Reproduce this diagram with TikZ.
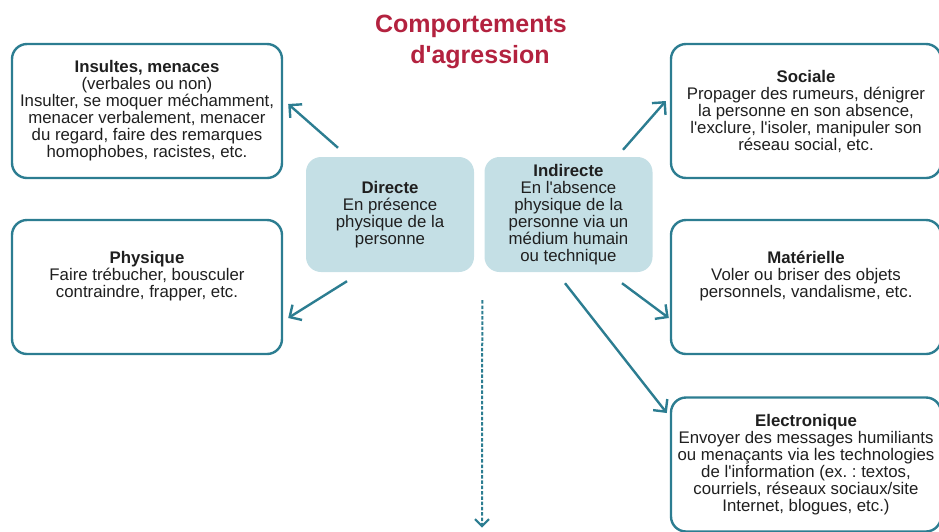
\documentclass[tikz,border=0pt]{standalone}
\usepackage{fontspec}
\setmainfont{Liberation Sans}
\usetikzlibrary{arrows.meta,calc}
\definecolor{teal1}{HTML}{2C7D91}
\definecolor{paleblue}{HTML}{C4DFE5}
\definecolor{crimson}{HTML}{B3223F}
\newcommand\ap{\textquotesingle}
\frenchspacing
\begin{document}
\begin{tikzpicture}[x=1pt,y=-1pt,
  body/.style={font=\fontsize{16.8}{17}\selectfont, align=center, text=black!88},
  outline/.style={body, draw=teal1, line width=2.4pt, rounded corners=15pt,
    fill=white, minimum width=270pt, minimum height=134pt, inner sep=0pt},
  kind/.style={body, fill=paleblue, rounded corners=15pt,
    minimum width=168pt, minimum height=115pt, inner sep=0pt},
  link/.style={draw=teal1, line width=2.4pt,
    -{Straight Barb[length=9pt,width=18pt,line width=2.4pt]}},
  hint/.style={draw=teal1, line width=2pt, dash pattern=on 3.5pt off 1.8pt,
    -{Straight Barb[length=7pt,width=14pt,line width=2pt,sep]}}]
\useasboundingbox (0,0) rectangle (939,531);

% title
\node[font=\bfseries\fontsize{25}{31}\selectfont, text=crimson, align=center]
  (title) at (471,42) {Comportements\\\hspace{18pt}d\ap agression};

% the two modes of aggression
\node[kind] (dir) at (390,214.5)
  {\textbf{Directe}\\En présence\\physique de la\\personne};
\node[kind] (ind) at (568.5,214.5)
  {\textbf{Indirecte}\\En l\ap absence\\physique de la\\personne via un\\médium humain\\ou technique};

% direct forms
\node[outline] (ins) at (147,111)
  {\textbf{Insultes, menaces}\\(verbales ou non)\\Insulter, se moquer méchamment,\\menacer verbalement, menacer\\du regard, faire des remarques\\homophobes, racistes, etc.};
\node[outline] (phy) at (147,287)
  {\textbf{Physique}\\Faire trébucher, bousculer\\contraindre, frapper, etc.\\[8pt]};

% indirect forms
\node[outline] (soc) at (806,111)
  {\textbf{Sociale}\\Propager des rumeurs, dénigrer\\la personne en son absence,\\l\ap exclure, l\ap isoler, manipuler son\\réseau social, etc.};
\node[outline] (mat) at (806,287)
  {\textbf{Matérielle}\\Voler ou briser des objets\\personnels, vandalisme, etc.\\[8pt]};
\node[outline] (ele) at (806,464.5)
  {\textbf{Electronique}\\Envoyer des messages humiliants\\ou menaçants via les technologies\\de l\ap information (ex. : textos,\\courriels, réseaux sociaux/site\\Internet, blogues, etc.)};

% connectors
\draw[link] ($(dir.north)+(-52,-9)$) -- ($(ins.east)+(5,-7)$);
\draw[link] ($(dir.south)+(-43,9)$) -- ($(phy.east)+(5,31)$);
\draw[link] ($(ind.north)+(54.5,-7)$) -- ($(soc.west)+(-4,-10)$);
\draw[link] ($(ind.south)+(53.5,11)$) -- ($(mat.west)+(-1,31)$);
\draw[link] ($(ind.south)+(-3.5,11)$) -- ($(ele.west)+(-3,-51.5)$);
\coordinate (below) at (482,529);
\draw[hint] ($(ind.south west)+(-2,28)$) -- (below);
\end{tikzpicture}
\end{document}
